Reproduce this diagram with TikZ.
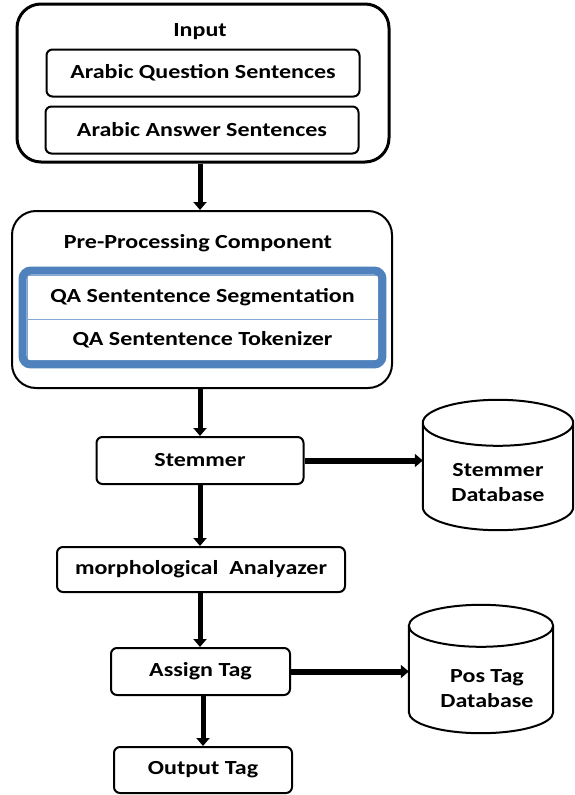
\documentclass[tikz,border=0pt]{standalone}
\usepackage{fontspec}
\setmainfont{Carlito}[FakeStretch=1.2]
\usepackage{xcolor}
\usepackage{tikz}
\usetikzlibrary{arrows.meta, positioning, fit, calc}
\definecolor{segblue}{RGB}{79,129,189}

% database drum drawn over a named node: #1 node, #2 lid radius
\newcommand{\dbcyl}[2]{%
  \draw[line width=2pt] let \p1=($(#1.east)-(#1.west)$) in
    ($(#1.north west)+(0,#2)$) -- ($(#1.south west)+(0,-#2)$)
    arc[start angle=180, end angle=360, x radius=0.5*\x1, y radius=#2pt]
    -- ($(#1.north east)+(0,#2)$)
    arc[start angle=0, end angle=360, x radius=0.5*\x1, y radius=#2pt];
}

\begin{document}
\begin{tikzpicture}[
  x=1pt, y=-1pt,
  font=\bfseries\fontsize{20}{25}\selectfont,
  box/.style={draw, line width=2pt, rounded corners=6pt, fill=white, inner sep=2pt},
  frame/.style={draw, rounded corners=24pt, fill=white},
  inbox/.style={draw=segblue!70, line width=0.8pt, fill=white, inner sep=2pt},
  db/.style={inner sep=0pt},
  dbtext/.style={align=center, font=\bfseries\fontsize{20}{25}\selectfont},
  arr/.style={-{Triangle[length=8pt, width=13pt]}, line width=5pt},
]
\useasboundingbox (0,0) rectangle (575,795);

% Input block
\node[frame, line width=3pt, minimum width=372pt, minimum height=158pt] (input) at (203,83) {};
\node (intitle) at (200,32) {Input};
\node[box, minimum width=313pt, minimum height=47pt] (quest) at (203,73) {Arabic Question Sentences};
\node[box, minimum width=313pt, minimum height=47pt] (answ) at (202,130) {Arabic Answer Sentences};

% Pre-processing block
\node[frame, line width=2pt, minimum width=380pt, minimum height=177pt] (pre) at (202,299.5) {};
\node (pretitle) at (198,243) {Pre-Processing Component};
\node[inbox, minimum width=351pt, minimum height=44pt] (seg) at (202.5,297) {QA Sententence Segmentation};
\node[inbox, minimum width=351pt, minimum height=41pt] (tok) at (202.5,339.5) {QA Sententence Tokenizer};
\node[draw=segblue, line width=8pt, rounded corners=8pt, inner sep=4pt, fit=(seg)(tok)] (segtok) {};

% Processing chain
\node[box, minimum width=207pt, minimum height=47pt] (stem) at (200,460.5) {Stemmer};
\node[box, minimum width=288pt, minimum height=45pt] (morph) at (201,569.5) {morphological~ Analyazer};
\node[box, minimum width=179pt, minimum height=47pt] (assign) at (200.5,671.5) {Assign Tag};
\node[box, minimum width=178pt, minimum height=46pt] (out) at (203,770) {Output Tag};

% Databases (text sits below the top lid)
\node[db, minimum width=150pt, minimum height=130pt,
  label={[dbtext, yshift=-18pt]center:{Stemmer\\Database}}] (stemdb) at (498,465) {};
\dbcyl{stemdb}{23}
\node[db, minimum width=144pt, minimum height=128pt,
  label={[dbtext, yshift=-20pt, xshift=6pt]center:{Pos Tag\\Database}}] (posdb) at (481,669) {};
\dbcyl{posdb}{21}

% Connectors
\draw[arr] (input.south -| stem) -- (pre.north -| stem);
\draw[arr] (pre.south -| stem) -- (stem.north);
\draw[arr] (stem.south) -- (stem.south |- morph.north);
\draw[arr] (morph.south -| stem) -- (assign.north -| stem);
\draw[arr] (assign.south -| out) -- (out.north);
\draw[arr, line width=6pt] (stem.east) -- (stem.east -| stemdb.west);
\draw[arr, line width=6pt] (assign.east) -- (assign.east -| posdb.west);
\end{tikzpicture}
\end{document}
